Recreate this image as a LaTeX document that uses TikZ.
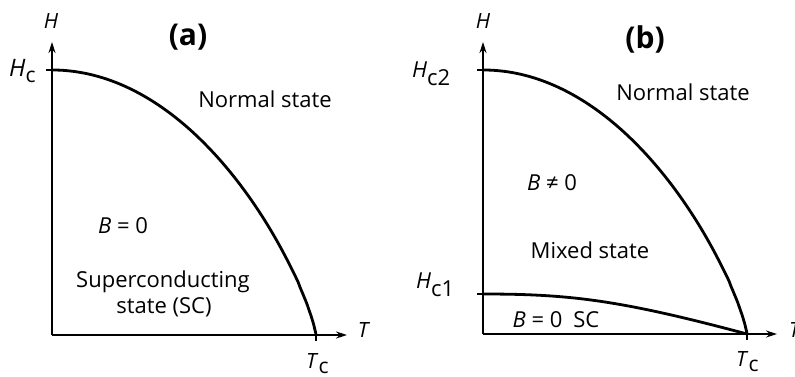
\documentclass[tikz,border=0pt]{standalone}
\usepackage{fontspec}
\setmainfont{Open Sans}
\usetikzlibrary{arrows.meta}
\newcommand{\lowsub}[2]{\raisebox{-#1}{#2}}
\begin{document}
\begin{tikzpicture}[x=1pt,y=-1pt,
  axis/.style={line width=1.3pt,-{Stealth[length=11pt,width=7pt]}},
  curve/.style={line width=2.8pt,line join=round,line cap=round},
  tick/.style={line width=1.3pt},
  lbl/.style={font=\fontsize{22}{26}\selectfont,inner sep=0pt,anchor=base},
  axl/.style={font=\fontsize{21}{24}\selectfont,inner sep=0pt,anchor=base},
  ttl/.style={font=\fontsize{30}{32}\selectfont\bfseries,inner sep=0pt}]
\useasboundingbox (0,0) rectangle (795,376);
% ---------- panel (a)
\coordinate (ao) at (52,335);
\coordinate (ay) at (52,42);
\coordinate (ax) at (347,335);
\coordinate (ahc) at (52,70);
\coordinate (atc) at (316,335);
\draw[axis] (ao) -- (ay);
\draw[axis] (ao) -- (ax);
\draw[tick] (46,70) -- (ahc);
\draw[tick] (316,331) -- (316,341);
\draw[curve] plot[domain=0:0.999,samples=120] ({52+264*\x},{335-265*(1-\x*\x)^0.8}) -- (atc);
\node[axl] (aH) at (51,28) {\textit{H}};
\node[axl] (aT) at (364,337) {\textit{T}};
\node[anchor=base west,inner sep=0pt,font=\fontsize{24}{26}\selectfont] (aHc) at (9,76) {\textit{H}\lowsub{6pt}{\fontsize{21}{22}\selectfont c}};
\node[anchor=base west,inner sep=0pt,font=\fontsize{21}{22}\selectfont] (aTc) at (306,368) {\textit{T}\lowsub{5pt}{c}};
\node[ttl] (atitle) at (188,37) {(a)};
\node[lbl] (anorm) at (265,107) {Normal state};
\node[lbl] (ab0) at (123,233) {\textit{B} = 0};
\node[lbl] (asc1) at (163,287) {Superconducting};
\node[lbl] (asc2) at (164,313) {state (SC)};
% ---------- panel (b)
\coordinate (bo) at (483,334);
\coordinate (by) at (483,42);
\coordinate (bx) at (777,334);
\coordinate (bhc2) at (483,70);
\coordinate (bhc1) at (483,294);
\coordinate (btc) at (747,334);
\draw[axis] (bo) -- (by);
\draw[axis] (bo) -- (bx);
\draw[tick] (477,70) -- (bhc2);
\draw[tick] (477,294) -- (bhc1);
\draw[tick] (747,330) -- (747,340);
\draw[curve] plot[domain=0:0.999,samples=120] ({483+264*\x},{334-264*(1-\x*\x)^0.8}) -- (btc);
\draw[curve] (bhc1) .. controls (570,294) and (620,300) .. (btc);
\node[axl] (bH) at (483,28) {\textit{H}};
\node[anchor=base west,inner sep=0pt,font=\fontsize{21}{24}\selectfont] (bT) at (789,337) {\textit{T}};
\node[anchor=base west,inner sep=0pt,font=\fontsize{22}{24}\selectfont] (bHc2) at (412,77) {\textit{H}\lowsub{8pt}{c2}};
\node[anchor=base west,inner sep=0pt,font=\fontsize{22}{24}\selectfont] (bHc1) at (416,288) {\textit{H}\lowsub{8pt}{c1}};
\node[anchor=base west,inner sep=0pt,font=\fontsize{21}{22}\selectfont] (bTc) at (736,366) {\textit{T}\lowsub{5pt}{c}};
\node[ttl] (btitle) at (645,39) {(b)};
\node[lbl] (bnorm) at (683,100) {Normal state};
\node[lbl] (bbn) at (552,190) {\textit{B} ≠ 0};
\node[lbl] (bmix) at (590,258) {Mixed state};
\node[lbl] (bb0) at (556,327) {\textit{B} = 0\hspace{0.5em}SC};
\end{tikzpicture}
\end{document}
